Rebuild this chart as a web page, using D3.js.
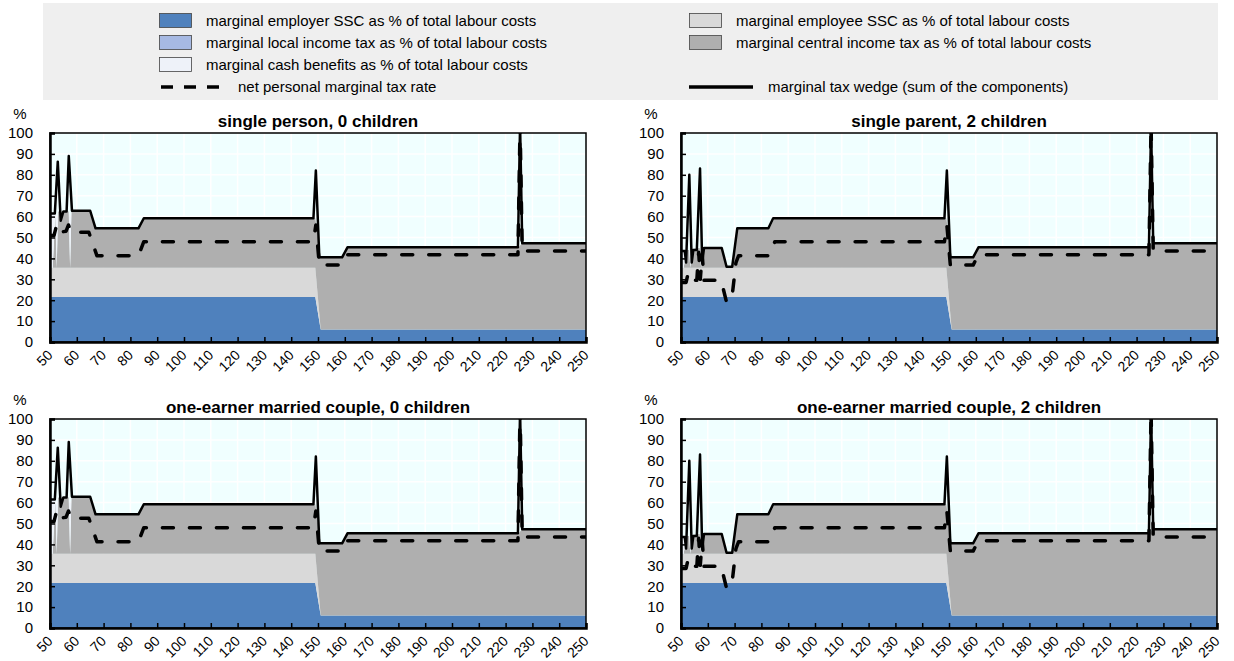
<!DOCTYPE html>
<html><head><meta charset="utf-8">
<script src="https://cdn.jsdelivr.net/npm/d3@7"></script>
<style>
body{margin:0;background:#fff;}
svg{display:block;font-family:"Liberation Sans",Arial,sans-serif;}
</style></head><body>
<svg id="chart" width="1234" height="661"></svg>
<script>
// ---------------- DATA ----------------
const panelTitles = ["single person, 0 children", "single parent, 2 children",
  "one-earner married couple, 0 children", "one-earner married couple, 2 children"];
const xTicks = [50,60,70,80,90,100,110,120,130,140,150,160,170,180,190,200,210,220,230,240,250];
const yTicks = [0,10,20,30,40,50,60,70,80,90,100];

const seriesNames = ["marginal employer SSC as % of total labour costs",
  "marginal employee SSC as % of total labour costs",
  "marginal local income tax as % of total labour costs",
  "marginal central income tax as % of total labour costs",
  "marginal cash benefits as % of total labour costs"];
const lineNames = ["net personal marginal tax rate", "marginal tax wedge (sum of the components)"];

// Scenario A: no children (panels 1 and 3)
const incomeA      = [50, 51, 52, 52.5, 53, 57, 57.5, 58, 65, 67, 83, 85, 149, 151, 159, 161, 225, 226, 250];
const employerSSC_A = [21.5,21.5,21.5,21.5,21.5,21.5,21.5,21.5,21.5,21.5,21.5,21.5,21.5, 6,6,6,6,6,6];
const employeeSSC_A = [14,14,14,14,14,14,14,14,14,14,14,14,14, 0,0,0,0,0,0];
const localTax_A    = [0,0,0,0,0,0,0,0,0,0,0,0,0,0,0,0,0,0,0];
const centralTax_A  = [0,0,26.5,0,27,27,0,27.3,27.3,18.9,18.9,23.7,23.7,34.5,34.5,39.3,39.3,41.2,41.2];
const cashBen_A     = [26,26,0,23,0,0,24,0,0,0,0,0,0,0,0,0,0,0,0];
const wedgeX_A = [50, 51.8, 52.9, 54, 55, 56.2, 57, 58.2, 65, 67, 83, 85, 148.3, 149.2, 150.5, 159, 161, 224.6, 225.4, 226.2, 250];
const wedge_A  = [61.5, 61.5, 86.3, 58, 62.5, 62.5, 89, 62.8, 62.8, 54.4, 54.4, 59.2, 59.2, 82, 40.5, 40.5, 45.3, 45.3, 104, 47.2, 47.2];
const netX_A = [50, 51.5, 52.5, 53.3, 56, 56.9, 57.8, 64.5, 67.5, 83, 85, 148.3, 149.2, 150.5, 159, 161, 224.6, 225.4, 226.2, 250];
const net_A  = [51, 51, 56, 52.5, 53, 56, 52.5, 52.5, 41.3, 41.3, 48, 48, 56, 36.8, 36.8, 41.8, 41.8, 104, 43.5, 43.5];

// Scenario B: two children (panels 2 and 4)
const incomeB      = [50, 51, 52, 53, 53.5, 54, 57, 57.5, 58, 65, 67, 69, 71, 83, 85, 149, 151, 159, 161, 225, 226, 250];
const employerSSC_B = [21.5,21.5,21.5,21.5,21.5,21.5,21.5,21.5,21.5,21.5,21.5,21.5,21.5,21.5,21.5,21.5, 6,6,6,6,6,6];
const employeeSSC_B = [14,14,14,14,14,14,14,14,14,14,14,14,14,14,14,14, 0,0,0,0,0,0];
const localTax_B    = [0,0,0,0,0,0,0,0,0,0,0,0,0,0,0,0,0,0,0,0,0,0];
const centralTax_B  = [0,0,8.5,8.5,0,9,9.5,0,9.6,9.6,0.5,0.5,18.9,18.9,23.7,23.7,34.5,34.5,39.3,39.3,41.2,41.2];
const cashBen_B     = [8.5,8.5,0,0,8,0,0,9,0,0,0,0,0,0,0,0,0,0,0,0,0,0];
const wedgeX_B = [50, 51.4, 51.9, 53.1, 54, 54.6, 55.9, 57.1, 57.9, 58.6, 65.2, 67, 69.1, 71, 82.6, 84.4, 148.3, 149.2, 150.5, 159, 161, 224.6, 225.4, 226.2, 250];
const wedge_B  = [43.5, 43.5, 38, 80, 38, 44, 44, 83, 38, 45, 45, 36, 36, 54.4, 54.4, 59.2, 59.2, 82, 40.5, 40.5, 45.3, 45.3, 104, 47.2, 47.2];
const netX_B = [50, 51.9, 52.5, 53.1, 54, 55.9, 56.6, 57.2, 57.9, 58.6, 65, 67, 69, 70.5, 71.5, 83, 85, 148.3, 149.2, 150.5, 159, 161, 224.6, 225.4, 226.2, 250];
const net_B  = [28.5, 28.5, 32, 28.5, 29.5, 29.5, 43, 30, 42, 29.5, 29.5, 19, 21, 38, 41.3, 41.3, 48, 48, 56, 36.8, 36.8, 41.8, 41.8, 104, 43.5, 43.5];

// ---------------- BUILD ----------------
const keys = ["employer","employee","local","central","cash"];
const colors = {employer:"#4f81bd", employee:"#d9d9d9", local:"#a6b9e3", central:"#afafaf", cash:"#eef2f9"};

function buildScenario(inc, er, ee, lo, ce, ca, wx, w, nx, n) {
  return {
    rows: inc.map((v,i)=>({income:v, employer:er[i], employee:ee[i], local:lo[i], central:ce[i], cash:ca[i]})),
    wedge: wx.map((v,i)=>({income:v, value:w[i]})),
    net: nx.map((v,i)=>({income:v, value:n[i]}))
  };
}
const scenA = buildScenario(incomeA, employerSSC_A, employeeSSC_A, localTax_A, centralTax_A, cashBen_A, wedgeX_A, wedge_A, netX_A, net_A);
const scenB = buildScenario(incomeB, employerSSC_B, employeeSSC_B, localTax_B, centralTax_B, cashBen_B, wedgeX_B, wedge_B, netX_B, net_B);
const panelScen = [scenA, scenB, scenA, scenB];

const svg = d3.select("#chart");
svg.append("rect").attr("width",1234).attr("height",661).attr("fill","#fff");

// ---------------- LEGEND ----------------
const lg = svg.append("g");
lg.append("rect").attr("x",43).attr("y",3).attr("width",1175).attr("height",97).attr("fill","#efefef");
const legendFont = 15;
const legItems = [
  {col:0,row:0,type:"box",key:"employer",label:seriesNames[0]},
  {col:0,row:1,type:"box",key:"local",label:seriesNames[2]},
  {col:0,row:2,type:"box",key:"cash",label:seriesNames[4]},
  {col:0,row:3,type:"dash",label:lineNames[0]},
  {col:1,row:0,type:"box",key:"employee",label:seriesNames[1]},
  {col:1,row:1,type:"box",key:"central",label:seriesNames[3]},
  {col:1,row:3,type:"solid",label:lineNames[1]}
];
const colX = [159, 689];
const rowY = [21, 43, 65, 87];
legItems.forEach(it=>{
  const x0 = colX[it.col], yc = rowY[it.row];
  if (it.type==="box") {
    lg.append("rect").attr("x",x0+0.5).attr("y",yc-7.5).attr("width",32).attr("height",14)
      .attr("fill",colors[it.key]).attr("stroke","#444").attr("stroke-width",0.8);
    lg.append("text").attr("x",x0+47).attr("y",yc).attr("dy","0.35em")
      .attr("font-size",legendFont).attr("fill","#000").text(it.label);
  } else if (it.type==="dash") {
    lg.append("line").attr("x1",x0+2).attr("x2",x0+62).attr("y1",yc).attr("y2",yc)
      .attr("stroke","#000").attr("stroke-width",3.5).attr("stroke-dasharray","12,11");
    lg.append("text").attr("x",x0+79).attr("y",yc).attr("dy","0.35em")
      .attr("font-size",legendFont).attr("fill","#000").text(it.label);
  } else {
    lg.append("line").attr("x1",x0).attr("x2",x0+64).attr("y1",yc).attr("y2",yc)
      .attr("stroke","#000").attr("stroke-width",3.5);
    lg.append("text").attr("x",x0+79).attr("y",yc).attr("dy","0.35em")
      .attr("font-size",legendFont).attr("fill","#000").text(it.label);
  }
});

// ---------------- PANELS ----------------
const W = 536, H = 209;
const panelPos = [[50,133],[681,133],[50,419],[681,419]];
const stack = d3.stack().keys(keys);

panelPos.forEach((pos,pi)=>{
  const [L,T] = pos;
  const sc = panelScen[pi];
  const x = d3.scaleLinear().domain([50,250]).range([L, L+W]);
  const y = d3.scaleLinear().domain([0,100]).range([T+H, T]);
  const g = svg.append("g");
  const clipId = "clip"+pi;
  svg.append("defs").append("clipPath").attr("id",clipId)
    .append("rect").attr("x",L).attr("y",T).attr("width",W).attr("height",H);

  g.append("rect").attr("x",L).attr("y",T).attr("width",W).attr("height",H).attr("fill","#f0ffff");
  // grid
  g.append("g").selectAll("line.gx").data(xTicks.slice(1,-1)).join("line")
    .attr("x1",d=>x(d)).attr("x2",d=>x(d)).attr("y1",T).attr("y2",T+H)
    .attr("stroke","#fff").attr("stroke-width",1.5);
  g.append("g").selectAll("line.gy").data(yTicks.slice(1,-1)).join("line")
    .attr("x1",L).attr("x2",L+W).attr("y1",d=>y(d)).attr("y2",d=>y(d))
    .attr("stroke","#fff").attr("stroke-width",1.5);

  // stacked areas
  const stacked = stack(sc.rows);
  const area = d3.area().x(d=>x(d.data.income)).y0(d=>y(d[0])).y1(d=>y(d[1]));
  const ag = g.append("g").attr("clip-path",`url(#${clipId})`);
  ag.selectAll("path").data(stacked).join("path")
    .attr("d",area).attr("fill",d=>colors[d.key]).attr("stroke","none");

  // lines
  const line = d3.line().x(d=>x(d.income)).y(d=>y(d.value));
  ag.append("path").datum(sc.net).attr("d",line).attr("fill","none")
    .attr("stroke","#000").attr("stroke-width",3.5).attr("stroke-dasharray","11,16")
    .attr("stroke-linecap","round").attr("stroke-linejoin","round");
  ag.append("path").datum(sc.wedge).attr("d",line).attr("fill","none")
    .attr("stroke","#000").attr("stroke-width",2.5).attr("stroke-linejoin","round");

  // border
  g.append("rect").attr("x",L).attr("y",T).attr("width",W).attr("height",H)
    .attr("fill","none").attr("stroke","#000").attr("stroke-width",1.5);

  // axes
  const yAxis = d3.axisLeft(y).tickValues(yTicks).tickSize(-5).tickPadding(17).tickFormat(d3.format("d"));
  const ya = g.append("g").attr("transform",`translate(${L},0)`).call(yAxis);
  ya.attr("font-family",null);
  ya.select(".domain").attr("stroke","#000").attr("stroke-width",2.5);
  ya.selectAll(".tick line").attr("stroke","#000").attr("stroke-width",1.5);
  ya.selectAll("text").attr("font-size",15).attr("fill","#000");

  const xAxis = d3.axisBottom(x).tickValues(xTicks).tickSize(-5).tickFormat(d3.format("d"));
  const xa = g.append("g").attr("transform",`translate(0,${T+H})`).call(xAxis);
  xa.attr("font-family",null);
  xa.select(".domain").attr("stroke","#000").attr("stroke-width",2.5);
  xa.selectAll(".tick line").attr("stroke","#000").attr("stroke-width",1.5);
  xa.selectAll("text").attr("font-size",14).attr("fill","#000")
    .attr("text-anchor","end").attr("y",0).attr("dy",0)
    .attr("transform","translate(3,14) rotate(-45)");

  // title and unit
  g.append("text").attr("x",L+W/2).attr("y",T-6).attr("text-anchor","middle")
    .attr("font-weight","bold").attr("font-size",17).attr("fill","#000").text(panelTitles[pi]);
  g.append("text").attr("x",L-30).attr("y",T-14).attr("text-anchor","middle")
    .attr("font-size",15).attr("fill","#000").text("%");
});
</script>
</body></html>
